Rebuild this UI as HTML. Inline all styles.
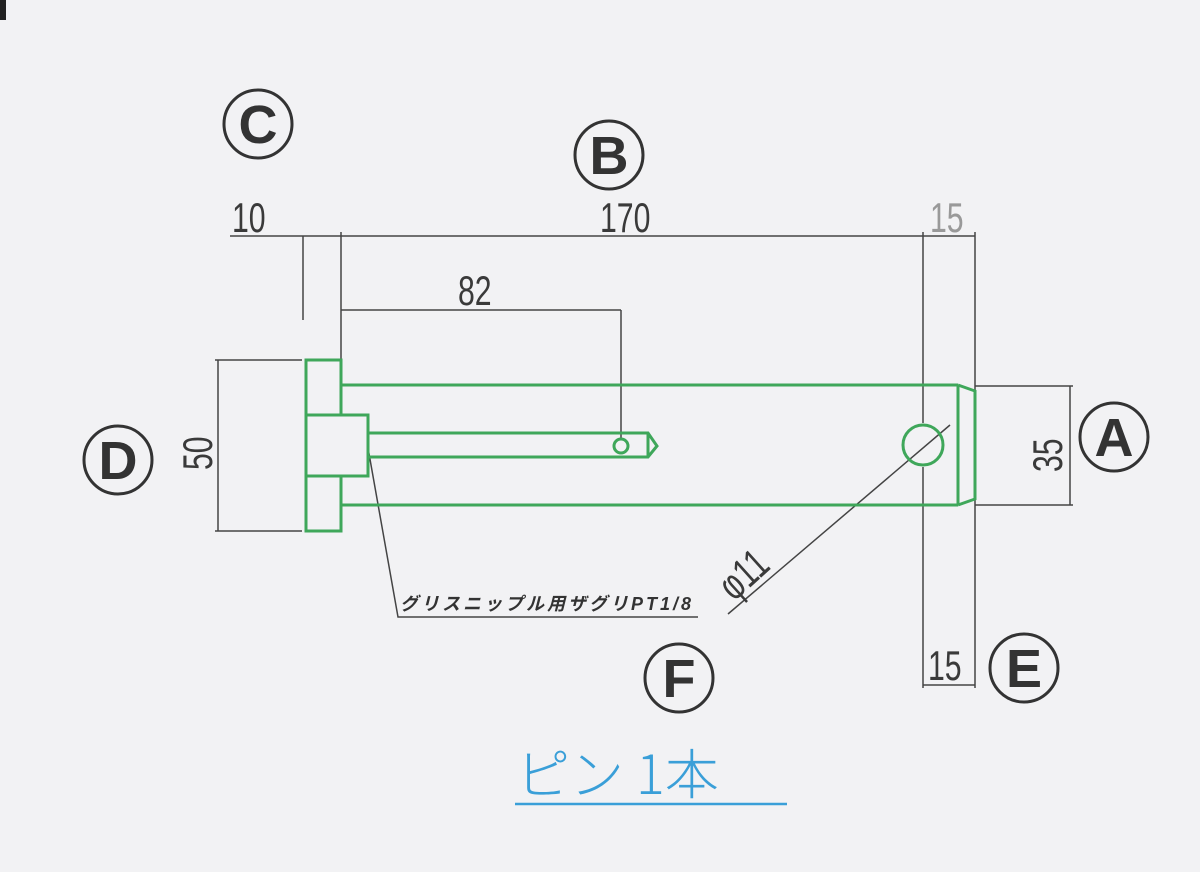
<!DOCTYPE html>
<html><head><meta charset="utf-8"><style>
html,body{margin:0;padding:0;background:#f2f2f4;}
svg{display:block}
.d{font-family:"Liberation Sans",sans-serif;fill:#3a3a3a;font-weight:300}
.c{font-family:"Liberation Sans",sans-serif;fill:#333;font-size:54px;font-weight:bold;text-anchor:middle}
</style></head><body>
<svg width="1200" height="872" viewBox="0 0 1200 872" xmlns="http://www.w3.org/2000/svg">
<rect width="1200" height="872" fill="#f2f2f4"/>
<rect x="0" y="0" width="6" height="20" fill="#222"/>
<g stroke="#444" stroke-width="1.5" fill="none">
<line x1="230" y1="236" x2="975" y2="236"/>
<line x1="303" y1="236" x2="303" y2="320"/>
<line x1="341" y1="232" x2="341" y2="360"/>
<line x1="923" y1="232" x2="923" y2="423"/>
<line x1="923" y1="467" x2="923" y2="688"/>
<line x1="975" y1="232" x2="975" y2="688"/>
<line x1="341" y1="310" x2="621" y2="310"/>
<line x1="621" y1="310" x2="621" y2="438"/>
<line x1="215" y1="360" x2="302" y2="360"/>
<line x1="215" y1="531" x2="302" y2="531"/>
<line x1="218" y1="360" x2="218" y2="531"/>
<line x1="975" y1="386" x2="1073" y2="386"/>
<line x1="975" y1="505" x2="1073" y2="505"/>
<line x1="1070" y1="386" x2="1070" y2="505"/>
<line x1="923" y1="685" x2="975" y2="685"/>
<polyline points="368,448 398,617 698,617"/>
<line x1="950" y1="425" x2="728" y2="614"/>
</g>
<g stroke="#3fa75a" stroke-width="3" fill="none">
<rect x="306" y="360" width="35" height="171"/>
<rect x="306" y="415" width="62" height="61" fill="#f2f2f4"/>
<line x1="341" y1="385" x2="958" y2="385"/>
<line x1="341" y1="505" x2="958" y2="505"/>
<line x1="958" y1="385" x2="958" y2="505"/>
<polyline points="958,385 975,391 975,499 958,505"/>
<polyline points="368,433 648,433 657,446 648,457 368,457"/>
<line x1="648" y1="433" x2="648" y2="457"/>
<circle cx="621" cy="446" r="7"/>
<circle cx="923" cy="445" r="20"/>
</g>
<g class="d" font-size="42">
<text x="232" y="232" transform="translate(232 0) scale(0.72 1) translate(-232 0)">10</text>
<text x="600" y="232" transform="translate(600 0) scale(0.72 1) translate(-600 0)">170</text>
<text x="930" y="232" fill="#999" transform="translate(930 0) scale(0.72 1) translate(-930 0)">15</text>
<text x="458" y="305" transform="translate(458 0) scale(0.72 1) translate(-458 0)">82</text>
<text x="928" y="680" transform="translate(928 0) scale(0.72 1) translate(-928 0)">15</text>
<text transform="translate(212 470) rotate(-90) scale(0.72 1)">50</text>
<text transform="translate(1062 472) rotate(-90) scale(0.72 1)">35</text>
<text transform="translate(734 602) rotate(-42) scale(0.72 1)">φ11</text>
</g>
<text x="400" y="610" font-family="Liberation Sans,'Noto Sans CJK JP',sans-serif" font-size="18" font-weight="bold" font-style="italic" fill="#333" letter-spacing="3">グリスニップル用ザグリPT1/8</text>
<g stroke="#333" stroke-width="3" fill="none">
<circle cx="258" cy="124" r="34"/>
<circle cx="609" cy="155" r="34"/>
<circle cx="118" cy="460" r="34"/>
<circle cx="679" cy="678" r="34"/>
<circle cx="1024" cy="668" r="34"/>
<circle cx="1114" cy="437" r="34"/>
</g>
<g class="c">
<text x="258" y="143">C</text>
<text x="609" y="174">B</text>
<text x="118" y="479">D</text>
<text x="679" y="697">F</text>
<text x="1024" y="687">E</text>
<text x="1114" y="456">A</text>
</g>
<text x="516" y="794" font-family="'Noto Sans CJK JP',sans-serif" font-weight="300" font-size="54" fill="#3a9fd8">ピン 1本</text>
<line x1="515" y1="804" x2="787" y2="804" stroke="#3a9fd8" stroke-width="2.5"/>
</svg>
</body></html>
